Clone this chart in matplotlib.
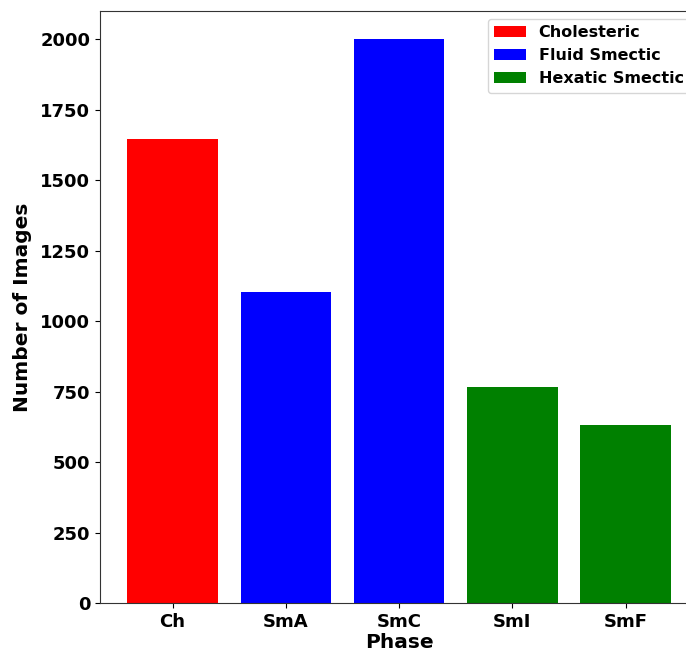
import matplotlib
matplotlib.use("Agg")
import matplotlib.pyplot as plt

phases = ["Ch", "SmA", "SmC", "SmI", "SmF"]
counts = [1647, 1105, 2000, 766, 630]
colors = ["red", "blue", "blue", "green", "green"]
groups = ["Cholesteric", "Fluid Smectic", "Fluid Smectic", "Hexatic Smectic", "Hexatic Smectic"]

fig = plt.figure(figsize=(6.86, 6.53), dpi=100)
# axes run slightly past the right edge, as in the cropped original
ax = fig.add_axes([0.1458, 0.0766, 0.872, 0.9064])

bars = ax.bar(phases, counts, color=colors, width=0.8)

# one legend entry per phase group
seen = {}
for b, g in zip(bars, groups):
    if g not in seen:
        seen[g] = b
ax.legend(seen.values(), seen.keys(), loc="upper right",
          prop={"weight": "bold", "size": 11.5})

ax.set_ylim(0, 2100)
ax.set_xlabel("Phase", fontsize=14.5, fontweight="bold", labelpad=2)
ax.set_ylabel("Number of Images", fontsize=14.5, fontweight="bold", labelpad=6)
for lab in ax.get_xticklabels() + ax.get_yticklabels():
    lab.set_fontweight("bold")
    lab.set_fontsize(13)
for s in ax.spines.values():
    s.set_color("#333333")

plt.savefig("out.png", dpi=100)
